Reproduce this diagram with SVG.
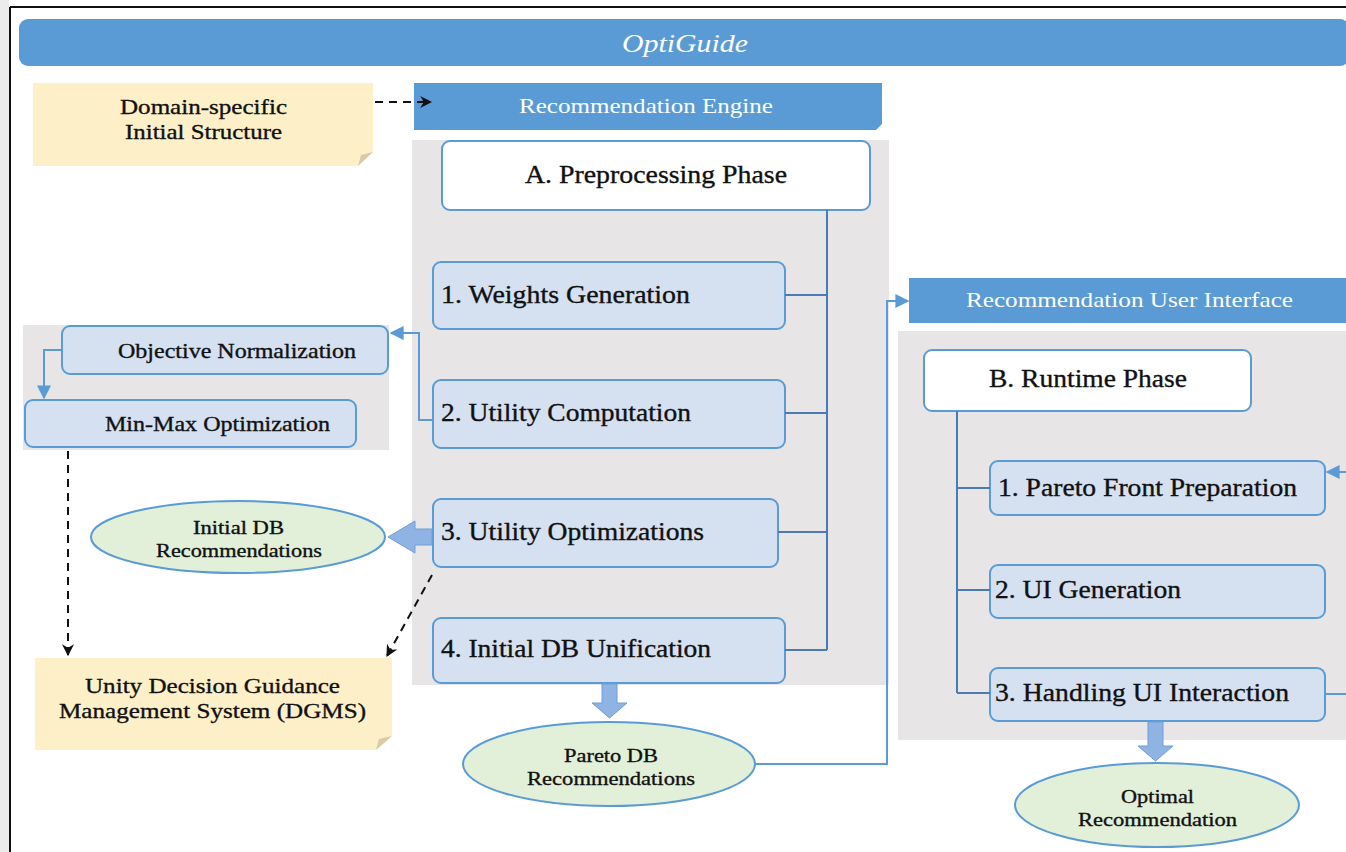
<svg xmlns="http://www.w3.org/2000/svg" width="1346" height="852" viewBox="0 0 1346 852">
<defs>
<style>
.t{font-family:"Liberation Serif","Times New Roman",serif;fill:#111;stroke:#111;stroke-width:0.35;}
.w{font-family:"Liberation Serif","Times New Roman",serif;fill:#fff;}
.hdr{fill:#5b9bd5;}
.panel{fill:#e7e5e6;}
.phase{fill:#fff;stroke:#5b9bd5;stroke-width:2;}
.step{fill:#d5e0f1;stroke:#5b9bd5;stroke-width:2;}
.note{fill:#fdf0c9;}
.fold{fill:#d9cba6;}
.ell{fill:#e2efd9;stroke:#5b9bd5;stroke-width:2;}
.tree{fill:none;stroke:#4a7bb7;stroke-width:2;}
.conn{fill:none;stroke:#5b9bd5;stroke-width:2;}
.dash{fill:none;stroke:#111;stroke-width:2;stroke-dasharray:8 6;}
.block{fill:#8fb4e3;stroke:#6f9fd8;stroke-width:1;}
</style>
<marker id="ab" viewBox="0 0 10 10" refX="9" refY="5" markerWidth="12" markerHeight="12" markerUnits="userSpaceOnUse" orient="auto">
<path d="M0,0 L10,5 L0,10 L3,5 Z" fill="#111"/>
</marker>
<marker id="bl" viewBox="0 0 10 10" refX="9" refY="5" markerWidth="14" markerHeight="14" markerUnits="userSpaceOnUse" orient="auto">
<path d="M0,0 L10,5 L0,10 Z" fill="#5b9bd5"/>
</marker>
</defs>
<rect width="1346" height="852" fill="#fff"/>
<rect x="0" y="0" width="9" height="852" fill="#ececec"/>
<line x1="10" y1="7" x2="10" y2="852" stroke="#111" stroke-width="2"/>
<line x1="10" y1="7" x2="1346" y2="7" stroke="#111" stroke-width="2"/>

<g id="title">
<rect x="19" y="19" width="1330" height="47" rx="9" class="hdr"/>
<text x="622" y="52" class="w" font-size="25" font-style="italic" textLength="126" lengthAdjust="spacingAndGlyphs">OptiGuide</text>
</g>

<g id="panels">
<rect x="412" y="140" width="477" height="545" class="panel"/>
<rect x="23" y="325" width="366" height="125" class="panel"/>
<rect x="898" y="331" width="448" height="409" class="panel"/>
</g>

<g id="domain-note">
<rect x="33" y="83" width="340" height="83" class="note"/>
<path d="M358,166 L373,152 L373,166 Z" fill="#fff"/>
<path d="M358,166 L361,155 L373,152 Z" class="fold"/>
<text x="120" y="114" class="t" font-size="22" textLength="167" lengthAdjust="spacingAndGlyphs">Domain-specific</text>
<text x="125" y="139" class="t" font-size="22" textLength="157" lengthAdjust="spacingAndGlyphs">Initial Structure</text>
</g>

<g id="engine-header">
<path d="M414,83 H882 V124 L876,130 H414 Z" class="hdr"/>
<text x="519" y="113" class="w" font-size="21" textLength="254" lengthAdjust="spacingAndGlyphs">Recommendation Engine</text>
</g>

<g id="phase-a">
<rect x="442" y="141" width="428" height="69" rx="8" class="phase"/>
<text x="525" y="183" class="t" font-size="26" textLength="262" lengthAdjust="spacingAndGlyphs">A. Preprocessing Phase</text>
</g>
<g id="step-a1">
<rect x="433" y="262" width="352" height="67" rx="8" class="step"/>
<text x="441" y="303" class="t" font-size="26" textLength="249" lengthAdjust="spacingAndGlyphs">1. Weights Generation</text>
</g>
<g id="step-a2">
<rect x="433" y="380" width="352" height="68" rx="8" class="step"/>
<text x="441" y="421" class="t" font-size="26" textLength="250" lengthAdjust="spacingAndGlyphs">2. Utility Computation</text>
</g>
<g id="step-a3">
<rect x="433" y="499" width="345" height="68" rx="8" class="step"/>
<text x="441" y="540" class="t" font-size="26" textLength="263" lengthAdjust="spacingAndGlyphs">3. Utility Optimizations</text>
</g>
<g id="step-a4">
<rect x="433" y="618" width="352" height="65" rx="8" class="step"/>
<text x="441" y="657" class="t" font-size="26" textLength="270" lengthAdjust="spacingAndGlyphs">4. Initial DB Unification</text>
</g>

<g id="objective-normalization">
<rect x="62" y="326" width="326" height="48" rx="8" class="step"/>
<text x="118" y="358" class="t" font-size="21" textLength="238" lengthAdjust="spacingAndGlyphs">Objective Normalization</text>
</g>
<g id="min-max">
<rect x="25" y="400" width="331" height="47" rx="8" class="step"/>
<text x="105" y="431" class="t" font-size="21" textLength="225" lengthAdjust="spacingAndGlyphs">Min-Max Optimization</text>
</g>

<g id="initial-db">
<ellipse cx="238" cy="537" rx="147" ry="36" class="ell"/>
<text x="193" y="534" class="t" font-size="19" textLength="91" lengthAdjust="spacingAndGlyphs">Initial DB</text>
<text x="156" y="557" class="t" font-size="19" textLength="166" lengthAdjust="spacingAndGlyphs">Recommendations</text>
</g>

<g id="dgms-note">
<rect x="35" y="658" width="357" height="92" class="note"/>
<path d="M376,750 L392,736 L392,750 Z" fill="#fff"/>
<path d="M376,750 L379,739 L392,736 Z" class="fold"/>
<text x="85" y="693" class="t" font-size="22" textLength="255" lengthAdjust="spacingAndGlyphs">Unity Decision Guidance</text>
<text x="59" y="718" class="t" font-size="22" textLength="307" lengthAdjust="spacingAndGlyphs">Management System (DGMS)</text>
</g>

<g id="pareto-db">
<ellipse cx="609" cy="764" rx="146" ry="42" class="ell"/>
<text x="564" y="762" class="t" font-size="19" textLength="94" lengthAdjust="spacingAndGlyphs">Pareto DB</text>
<text x="527" y="785" class="t" font-size="19" textLength="168" lengthAdjust="spacingAndGlyphs">Recommendations</text>
</g>

<g id="ui-header">
<path d="M909,278 H1346 V323 H909 Z" class="hdr"/>
<text x="966" y="307" class="w" font-size="21" textLength="327" lengthAdjust="spacingAndGlyphs">Recommendation User Interface</text>
</g>

<g id="phase-b">
<rect x="924" y="350" width="327" height="61" rx="8" class="phase"/>
<text x="989" y="387" class="t" font-size="26" textLength="198" lengthAdjust="spacingAndGlyphs">B. Runtime Phase</text>
</g>
<g id="step-b1">
<rect x="990" y="461" width="335" height="54" rx="8" class="step"/>
<text x="998" y="496" class="t" font-size="26" textLength="299" lengthAdjust="spacingAndGlyphs">1. Pareto Front Preparation</text>
</g>
<g id="step-b2">
<rect x="990" y="565" width="335" height="53" rx="8" class="step"/>
<text x="995" y="598" class="t" font-size="26" textLength="186" lengthAdjust="spacingAndGlyphs">2. UI Generation</text>
</g>
<g id="step-b3">
<rect x="990" y="668" width="335" height="53" rx="8" class="step"/>
<text x="995" y="701" class="t" font-size="26" textLength="294" lengthAdjust="spacingAndGlyphs">3. Handling UI Interaction</text>
</g>

<g id="optimal">
<ellipse cx="1157" cy="805" rx="142" ry="42" class="ell"/>
<text x="1121" y="803" class="t" font-size="19" textLength="73" lengthAdjust="spacingAndGlyphs">Optimal</text>
<text x="1078" y="826" class="t" font-size="19" textLength="159" lengthAdjust="spacingAndGlyphs">Recommendation</text>
</g>

<g id="connectors">
<path d="M827,210 V650 M785,295 H827 M785,413 H827 M778,532 H827 M785,650 H827" class="tree"/>
<path d="M957,411 V693 M957,488 H990 M957,590 H990 M957,693 H990" class="tree"/>
<path d="M433,420 H419 V333 H391" class="conn" marker-end="url(#bl)"/>
<path d="M62,350 H44 V398" class="conn" marker-end="url(#bl)"/>
<path d="M755,764 H887 V301 H908" class="conn" marker-end="url(#bl)"/>
<path d="M1325,694 H1346" class="conn"/>
<path d="M1346,472 H1327" class="conn" marker-end="url(#bl)"/>
<path d="M375,102 H431" class="dash" marker-end="url(#ab)"/>
<path d="M68,451 V655" class="dash" marker-end="url(#ab)"/>
<path d="M432,575 L387,656" class="dash" marker-end="url(#ab)"/>
<path d="M432,529 H415 V521 L388,537 L415,553 V545 H432 Z" class="block"/>
<path d="M602,684 H617 V703 H627 L609.5,718 L592,703 H602 Z" class="block"/>
<path d="M1148,722 H1163 V746 H1173 L1155.5,761 L1138,746 H1148 Z" class="block"/>
</g>
</svg>
